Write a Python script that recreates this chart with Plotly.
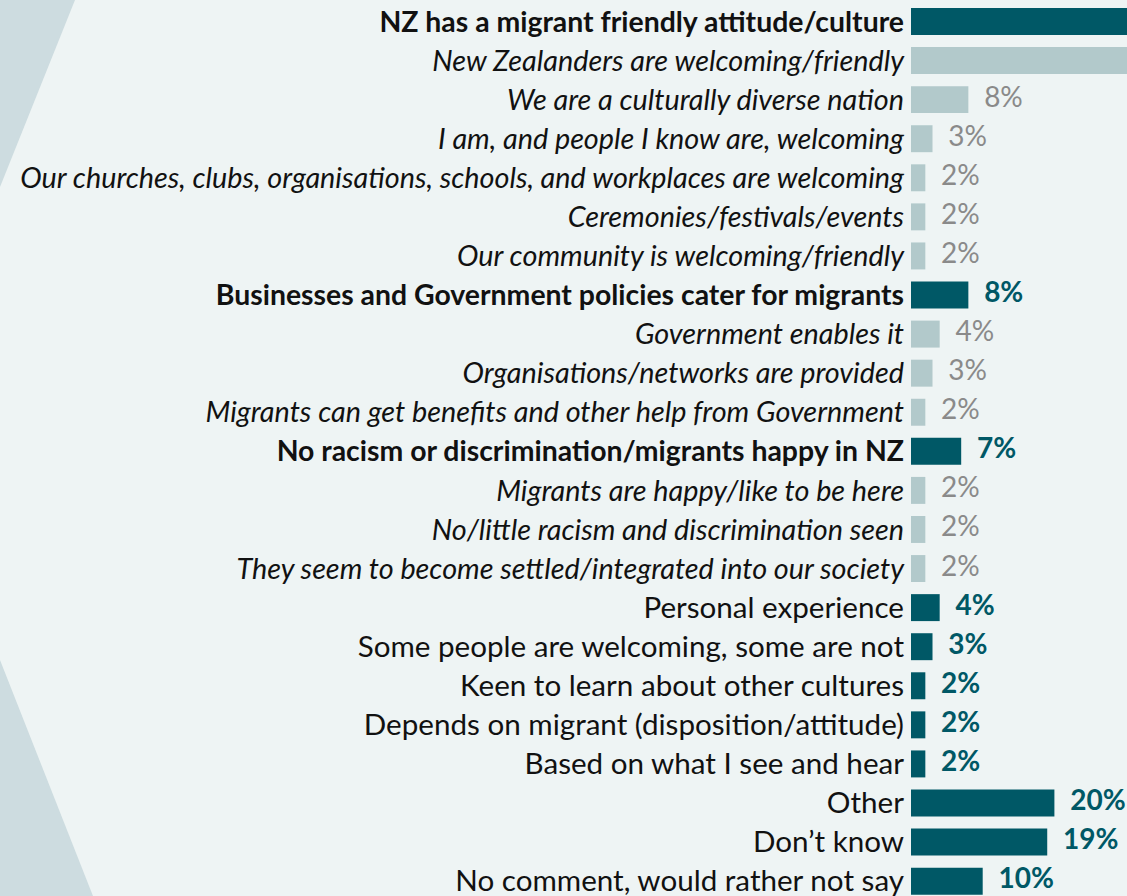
import plotly.graph_objects as go

# Reasons given, top to bottom; style: "main" = headline code (bold, dark bar),
# "sub" = sub-code (italic, light bar), "plain" = standalone code (dark bar)
categories = [
    "NZ has a migrant friendly attitude/culture",
    "New Zealanders are welcoming/friendly",
    "We are a culturally diverse nation",
    "I am, and people I know are, welcoming",
    "Our churches, clubs, organisations, schools, and workplaces are welcoming",
    "Ceremonies/festivals/events",
    "Our community is welcoming/friendly",
    "Businesses and Government policies cater for migrants",
    "Government enables it",
    "Organisations/networks are provided",
    "Migrants can get benefits and other help from Government",
    "No racism or discrimination/migrants happy in NZ",
    "Migrants are happy/like to be here",
    "No/little racism and discrimination seen",
    "They seem to become settled/integrated into our society",
    "Personal experience",
    "Some people are welcoming, some are not",
    "Keen to learn about other cultures",
    "Depends on migrant (disposition/attitude)",
    "Based on what I see and hear",
    "Other",
    "Don\u2019t know",
    "No comment, would rather not say",
]
values = [45, 33, 8, 3, 2, 2, 2, 8, 4, 3, 2, 7, 2, 2, 2, 4, 3, 2, 2, 2, 20, 19, 10]
styles = ["main", "sub", "sub", "sub", "sub", "sub", "sub",
          "main", "sub", "sub", "sub",
          "main", "sub", "sub", "sub",
          "plain", "plain", "plain", "plain", "plain",
          "plain", "plain", "plain"]

DARK = "#005866"
LIGHT = "#b2c9cb"
GREY_TXT = "#8a8a8a"
BG = "#eef4f4"
SHADE = "#cddce0"
W, H = 1127, 896
X_MAX = 216 / 7.17  # visible extent of the value axis (%)

positions = list(range(len(categories)))
bar_colors = [LIGHT if s == "sub" else DARK for s in styles]


def tick_label(text, style):
    if style == "main":
        return f"<span style='font-size:28.4px'><b>{text}</b></span>"
    if style == "sub":
        return f"<span style='font-size:28.8px'><i>{text}</i></span>"
    return f"<span style='font-size:29.6px'>{text}</span>"


def value_label(v, style):
    if style == "sub":
        return f"<span style='color:{GREY_TXT}'>{v}%</span>"
    return f"<b>{v}%</b>"


label_gap = 2.2  # space between bar end and its value, in axis units (%)
ticktext = [tick_label(c, s) for c, s in zip(categories, styles)]
# bars running past the visible axis keep their labels out of view
value_text = [value_label(v, s) if v + label_gap < X_MAX else ""
              for v, s in zip(values, styles)]

fig = go.Figure()
fig.add_trace(go.Bar(
    x=values,
    y=positions,
    orientation="h",
    width=0.69,
    marker=dict(color=bar_colors, line=dict(width=0)),
    hoverinfo="skip",
    cliponaxis=True,
))
fig.add_trace(go.Scatter(
    x=[v + label_gap for v in values],
    y=positions,
    mode="text",
    text=value_text,
    textposition="middle right",
    textfont=dict(family="Lato", size=28, color=DARK),
    cliponaxis=True,
    hoverinfo="skip",
))

# Diagonal background panels on the left edge
fig.add_shape(type="path", xref="paper", yref="paper",
              path=f"M 0,1 L {75/W},1 L 0,{1-187/H} Z",
              fillcolor=SHADE, line=dict(width=0), layer="below")
fig.add_shape(type="path", xref="paper", yref="paper",
              path=f"M 0,{1-660/H} L {93/W},0 L 0,0 Z",
              fillcolor=SHADE, line=dict(width=0), layer="below")

fig.update_layout(
    width=W, height=H,
    margin=dict(l=0, r=0, t=0, b=0),
    paper_bgcolor=BG,
    plot_bgcolor=BG,
    showlegend=False,
    xaxis=dict(domain=[911/W, 1], range=[0, X_MAX], visible=False,
               fixedrange=True),
    yaxis=dict(range=[22.38, -0.55], tickmode="array", tickvals=positions,
               ticktext=ticktext, showgrid=False, zeroline=False,
               showline=False, ticks="", ticklabelstandoff=6,
               ticklabeloverflow="allow",
               tickfont=dict(family="Lato", size=29, color="#111111"),
               fixedrange=True),
)

fig.write_html("out.html")
